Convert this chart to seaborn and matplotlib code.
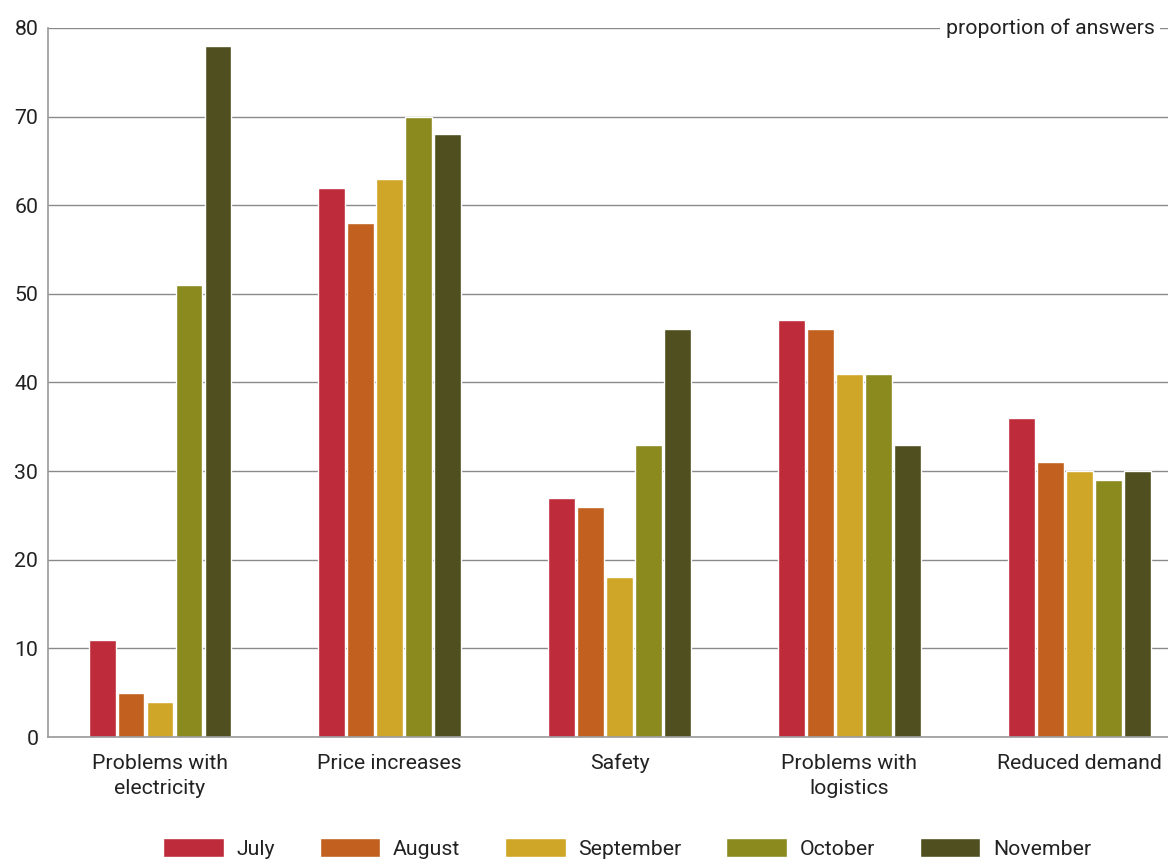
import matplotlib
matplotlib.use("Agg")
import matplotlib.pyplot as plt
import seaborn as sns
import pandas as pd

# Survey data: share of answers per issue, by month
issues = ["Problems with\nelectricity", "Price increases", "Safety",
          "Problems with\nlogistics", "Reduced demand"]
months = ["July", "August", "September", "October", "November"]
july = [11, 62, 27, 47, 36]
august = [5, 58, 26, 46, 31]
september = [4, 63, 18, 41, 30]
october = [51, 70, 33, 41, 29]
november = [78, 68, 46, 33, 30]
colors = ["#BE2B3A", "#C2601F", "#D0A628", "#8A8A1F", "#4F4F1F"]
yticks = [0, 10, 20, 30, 40, 50, 60, 70, 80]

series = [july, august, september, october, november]
rows = []
for m, vals in zip(months, series):
    for iss, v in zip(issues, vals):
        rows.append({"issue": iss, "month": m, "value": v})
df = pd.DataFrame(rows)

sns.set_theme(style="white")
plt.rcParams["font.family"] = ["Roboto", "DejaVu Sans"]
text_color = "#222222"
fs = 15.3

fig = plt.figure(figsize=(11.68, 8.63), dpi=100)
ax = fig.add_axes([48 / 1168, 1 - 737 / 863, 1 - 48 / 1168, (737 - 28) / 863])

sns.barplot(data=df, x="issue", y="value", hue="month", order=issues,
            hue_order=months, palette=colors, width=0.631, gap=0.07,
            saturation=1, ax=ax, legend=True)

ax.set_ylim(0, 80)
ax.set_xlim(-0.4875, 4.387)
ax.set_yticks(yticks)
ax.set_xlabel("")
ax.set_ylabel("")
ax.set_axisbelow(True)
ax.yaxis.grid(True, color="#8a8a8a", linewidth=1)
ax.xaxis.grid(False)
for side in ["top", "right"]:
    ax.spines[side].set_visible(False)
for side in ["left", "bottom"]:
    ax.spines[side].set_color("#9a9a9a")
    ax.spines[side].set_linewidth(1.2)
ax.tick_params(axis="y", length=0, pad=7, labelsize=fs, labelcolor=text_color)
ax.tick_params(axis="x", length=0, pad=12, labelsize=fs, labelcolor=text_color)
for lbl in ax.get_xticklabels():
    lbl.set_linespacing(1.45)

ax.text(0.988, 80, "proportion of answers", transform=ax.get_yaxis_transform(),
        ha="right", va="center", fontsize=fs, color=text_color,
        bbox=dict(facecolor="white", edgecolor="none", pad=4), zorder=5)

handles, labels = ax.get_legend_handles_labels()
ax.get_legend().remove()
fig.legend(handles, labels, loc="upper center", bbox_to_anchor=(0.537, 1 - 827 / 863),
           ncol=5, frameon=False, fontsize=fs, handlelength=2.85, handleheight=1.05,
           handletextpad=0.6, columnspacing=2.1, borderpad=0, labelcolor=text_color)

fig.savefig("out.png", dpi=100)
